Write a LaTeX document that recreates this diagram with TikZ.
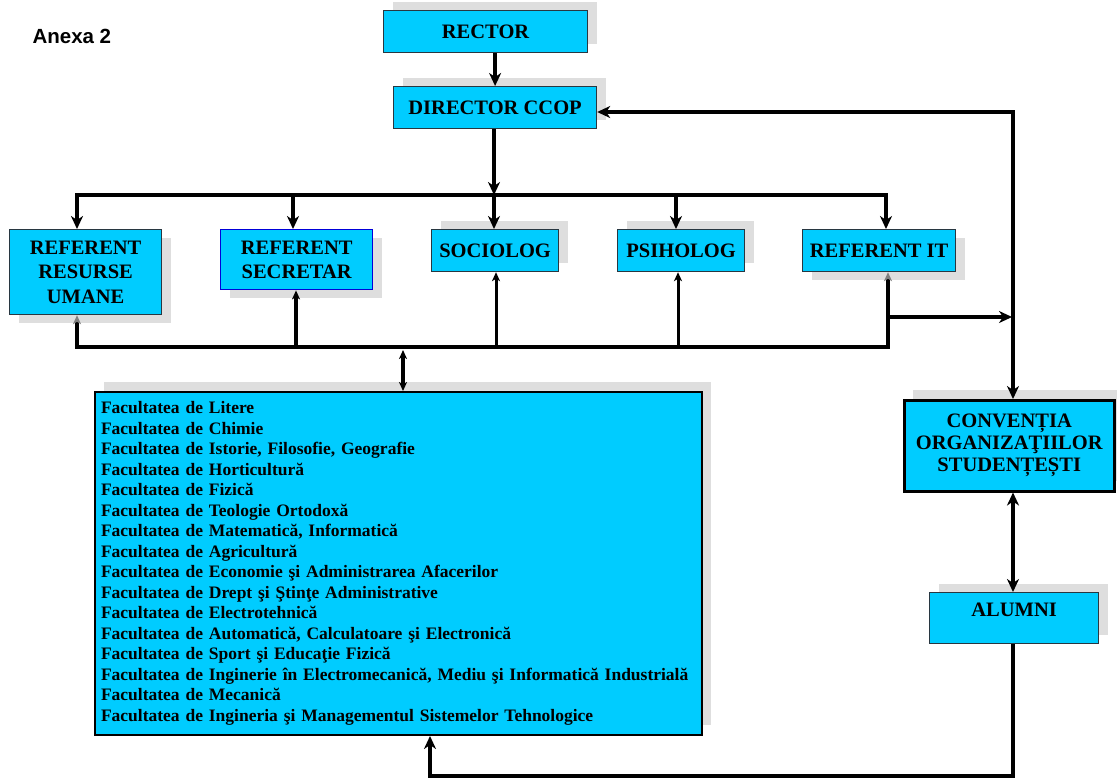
\documentclass[tikz,border=0pt]{standalone}
\usepackage{fontspec}
\setmainfont{Liberation Serif}
\newfontfamily\anexafont{Liberation Sans}
\usetikzlibrary{arrows.meta,shadows}
\definecolor{boxcyan}{RGB}{0,204,255}
\definecolor{shadowgray}{RGB}{222,222,222}
\definecolor{boxline}{RGB}{40,55,65}
\begin{document}
\begin{tikzpicture}[x=1pt,y=-1pt,
  box/.style={draw=boxline, line width=1.2pt, fill=boxcyan, inner sep=0pt, anchor=north west,
    align=center, font=\bfseries\fontsize{20.5}{24.5}\selectfont},
  shup/.style={general shadow={fill=shadowgray, shadow xshift=9pt, shadow yshift=9pt}},
  shdown/.style={general shadow={fill=shadowgray, shadow xshift=9pt, shadow yshift=-8pt}},
  bigtip/.tip={Stealth[length=13pt,width=12pt,inset=4pt]},
  smalltip/.tip={Stealth[length=9pt,width=8pt,inset=2.5pt]},
  conn/.style={line width=3.5pt, -bigtip},
  busline/.style={line width=3.5pt, line cap=rect},
  upthin/.style={line width=3pt, -smalltip},
  upgray/.style={line width=3.5pt, -{Stealth[length=9pt,width=8pt,inset=2.5pt,color=gray]}},
  dbl/.style={line width=3.5pt, smalltip-smalltip}
]
\useasboundingbox (0,0) rectangle (1117,780);

\node[anchor=west, font=\anexafont\bfseries\fontsize{20.5}{24}\selectfont] (anexa) at (29,36) {Anexa 2};

\node[box, shup, minimum width=204pt, minimum height=42pt] (rector) at (383,10) {RECTOR};
\node[box, shup, minimum width=203pt, minimum height=42pt] (director) at (393,86) {DIRECTOR CCOP};

\node[box, shdown, minimum width=152pt, minimum height=85pt] (rr) at (9,229) {REFERENT\\RESURSE\\UMANE};
\node[box, shdown, draw=blue!85!black, line width=1.4pt, minimum width=152pt, minimum height=60pt,
  font=\bfseries\fontsize{20.5}{24}\selectfont] (sec) at (220,229) {REFERENT\\SECRETAR};
\node[box, shup, minimum width=127pt, minimum height=42pt] (soc) at (431,229) {SOCIOLOG};
\node[box, shup, minimum width=127pt, minimum height=42pt] (psi) at (617,229) {PSIHOLOG};
\node[box, shdown, minimum width=153pt, minimum height=42pt] (it) at (802,229) {REFERENT IT};

\node[box, general shadow={fill=shadowgray, shadow xshift=9pt, shadow yshift=10pt},
  draw=black, line width=2pt, minimum width=607pt, minimum height=343pt,
  align=left, text width=595pt, inner xsep=6pt,
  font=\bfseries\fontsize{17.5}{20.5}\selectfont] (fac) at (94,391) {%
Facultatea de Litere\\
Facultatea de Chimie\\
Facultatea de Istorie, Filosofie, Geografie\\
Facultatea de Horticultură\\
Facultatea de Fizică\\
Facultatea de Teologie Ortodoxă\\
Facultatea de Matematică, Informatică\\
Facultatea de Agricultură\\
Facultatea de Economie şi Administrarea Afacerilor\\
Facultatea de Drept şi Ştinţe Administrative\\
Facultatea de Electrotehnică\\
Facultatea de Automatică, Calculatoare şi Electronică\\
Facultatea de Sport şi Educaţie Fizică\\
Facultatea de Inginerie în Electromecanică, Mediu şi Informatică Industrială\\
Facultatea de Mecanică\\
Facultatea de Ingineria şi Managementul Sistemelor Tehnologice};

\node[box, general shadow={fill=shadowgray, shadow xshift=9pt, shadow yshift=10pt},
  draw=black, line width=2.5pt, minimum width=210pt, minimum height=91pt,
  font=\bfseries\fontsize{20.5}{22}\selectfont] (conv) at (903,399) {CONVENȚIA\\ORGANIZAŢIILOR\\STUDENȚEȘTI};
\node[box, shup, minimum width=169pt, minimum height=51pt, text height=12pt, text depth=15pt] (alumni) at (929,592) {ALUMNI};

% coordinates
\coordinate (t1) at (77,195);
\coordinate (t2) at (293,195);
\coordinate (t3) at (494,195);
\coordinate (t4) at (676,195);
\coordinate (t5) at (886,195);
\coordinate (b1) at (77,347);
\coordinate (b2) at (296,347);
\coordinate (b3) at (496,347);
\coordinate (b4) at (678,347);
\coordinate (b5) at (888,347);
\coordinate (bm) at (403,350);
\coordinate (itj) at (888,317);
\coordinate (rj) at (1012,317);
\coordinate (rtop) at (1013,112);
\coordinate (bot) at (1013,776);
\coordinate (botl) at (430,776);

% top
\draw[conn] (rector.south -| director.north) -- (director.north);
\draw[conn] (t3 |- director.south) -- (t3);
\draw[busline] (t1) -- (t5);
\draw[conn] (t1) -- (t1 |- rr.north);
\draw[conn] (t2) -- (t2 |- sec.north);
\draw[conn] (t3) -- (t3 |- soc.north);
\draw[conn] (t4) -- (t4 |- psi.north);
\draw[conn] (t5) -- (t5 |- it.north);

% bottom bus
\draw[busline] (b1) -- (b5);
\draw[upgray] (b1) -- (b1 |- rr.south);
\draw[line width=4pt, -smalltip] (b2) -- (b2 |- sec.south);
\draw[upthin] (b3) -- (b3 |- soc.south);
\draw[upthin] (b4) -- (b4 |- psi.south);
\draw[upgray] (b5) -- (b5 |- it.south);
\draw[dbl] (bm) -- (bm |- fac.north);

% right side
\draw[conn] (itj) -- (rj);
\draw[line width=3.5pt, bigtip-bigtip] (director.east |- rtop) -- (rtop) -- (rtop |- conv.north);
\draw[line width=3.5pt, bigtip-bigtip] (rtop |- conv.south) -- (rtop |- alumni.north);
\draw[conn] (rtop |- alumni.south) -- (bot) -- (botl) -- (botl |- fac.south);
\end{tikzpicture}
\end{document}
